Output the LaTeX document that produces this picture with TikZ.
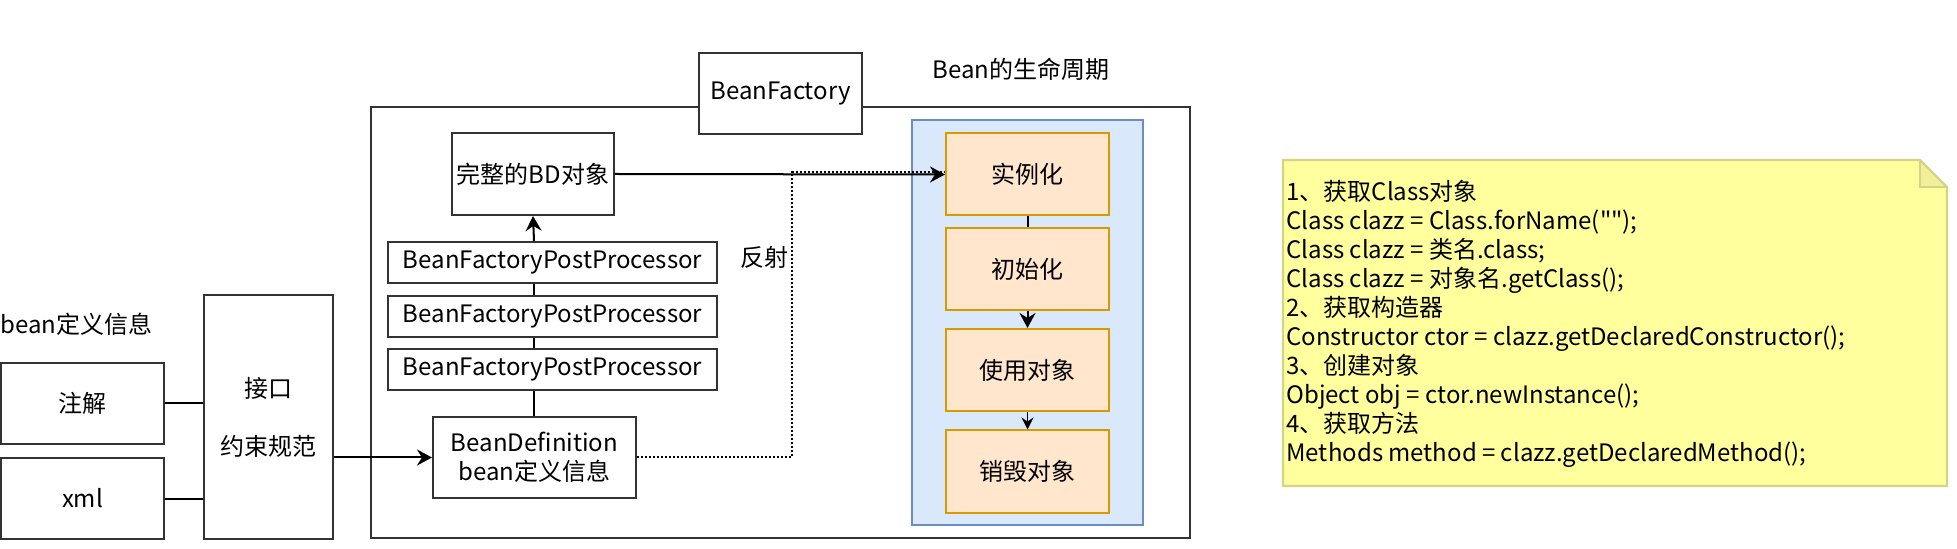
\documentclass[tikz,border=0pt]{standalone}
\usepackage{fontspec}
\newfontfamily\cjkfont{Noto Sans CJK SC}
\usetikzlibrary{arrows.meta}
\definecolor{dk}{HTML}{333333}
\definecolor{orfill}{HTML}{FFE6CC}
\definecolor{ordraw}{HTML}{D79B00}
\definecolor{blfill}{HTML}{DAE8FC}
\definecolor{bldraw}{HTML}{6C8EBF}
\definecolor{ntfill}{HTML}{FFFF9E}
\definecolor{ntdraw}{HTML}{D4D488}
\definecolor{ntfold}{HTML}{F0F09A}
\begin{document}
\begin{tikzpicture}[x=0.5pt,y=-0.5pt,
  font=\cjkfont\fontsize{12}{14.5}\selectfont,
  box/.style={draw=dk,line width=1pt,fill=white,inner sep=0pt,align=center},
  obox/.style={draw=ordraw,line width=1pt,fill=orfill,inner sep=0pt,align=center,minimum width=81.5pt,minimum height=41pt},
  pbox/.style={box,minimum width=164.5pt,minimum height=20.5pt},
  conn/.style={draw=black,line width=1pt},
  arr/.style={conn,-{Stealth[length=7.5pt,width=8pt,inset=2.5pt]}},
  dotline/.style={draw=black,line width=1pt,dash pattern=on 1pt off 1pt},
  lbl/.style={inner sep=0pt}]
\useasboundingbox (0,0) rectangle (1957,549);
% outer BeanFactory frame
\node[box,line width=1.3pt,minimum width=409.5pt,minimum height=215.5pt] (frame) at (780.5,322.5) {};
\node[box] (bfac) at (780.5,93.5) [minimum width=81.5pt,minimum height=40.5pt] {BeanFactory};
\node[lbl,anchor=west] (life) at (932,69) {Bean的生命周期};
% left side
\node[lbl,anchor=west] (bdinfo) at (0,324) {bean定义信息};
\node[box,minimum width=81.5pt,minimum height=40.5pt] (zj) at (82.5,403.5) {注解};
\node[box,minimum width=81.5pt,minimum height=40.5pt] (xml) at (82.5,498.5) {xml};
\node[box,minimum width=64.5pt,minimum height=122pt] (jk) at (268.5,417) {接口\\[14.5pt]约束规范};
% inner
\node[box,minimum width=81pt,minimum height=41pt] (wz) at (533,174) {完整的BD对象};
\node[pbox] (p1) at (552.5,262.5) {BeanFactoryPostProcessor};
\node[pbox] (p2) at (552.5,316.5) {BeanFactoryPostProcessor};
\node[pbox] (p3) at (552.5,370) {BeanFactoryPostProcessor};
\node[box,minimum width=101.5pt,minimum height=40.5pt] (bd) at (534.5,457.5) {BeanDefinition\\bean定义信息};
\node[lbl] (fs) at (764.5,257) {反射};
% lifecycle
\node[draw=bldraw,line width=1pt,fill=blfill,minimum width=115.5pt,minimum height=202.5pt,inner sep=0pt] (life box) at (1027.5,322.5) {};
\node[obox] (s1) at (1027.5,174.5) {实例化};
\node[obox] (s2) at (1027.5,269) {初始化};
\node[obox] (s3) at (1027.5,370) {使用对象};
\node[obox] (s4) at (1027.5,471.5) {销毁对象};
% connectors left
\draw[conn] (zj.east) -- (zj.east -| jk.west);
\draw[conn] (xml.east) -- (xml.east -| jk.west);
\draw[arr] (jk.east |- bd.west) -- (bd.west);
% stack
\draw[conn] (bd.north -| p3.south) ++(-18.5,0) coordinate (bdtop) -- (bdtop |- p3.south);
\draw[conn] (bdtop |- p3.north) -- (bdtop |- p2.south);
\draw[conn] (bdtop |- p2.north) -- (bdtop |- p1.south);
\draw[arr] (bdtop |- p1.north) -- (wz.south);
% reflection dotted path
\coordinate (dc) at (792,172);
\draw[dotline] (bd.east) -| (dc) -- (dc -| s1.west);
\draw[arr] (wz.east) -- (s1.west);
% lifecycle connectors
\draw[conn] (s1.south) -- (s2.north);
\draw[arr] (s2.south) -- (s3.north);
\draw[draw=black,line width=0.6pt,-{Stealth[length=6pt,width=6pt,inset=2pt]}] (s3.south) -- (s4.north);
% note
\coordinate (n1) at (1283,160);
\coordinate (n2) at (1920,160);
\coordinate (n3) at (1947,187);
\coordinate (n4) at (1947,486);
\coordinate (n5) at (1283,486);
\fill[ntfill] (n1) -- (n2) -- (n3) -- (n4) -- (n5) -- cycle;
\fill[ntfold] (n2) -- (n3) -- (n2 |- n3) -- cycle;
\draw[ntdraw,line width=1.2pt,line join=miter] (n1) -- (n2) -- (n3) -- (n4) -- (n5) -- cycle;
\draw[ntdraw,line width=1.2pt] (n2) -- (n2 |- n3) -- (n3);
\node[lbl,anchor=west,align=left] (note) at (1286,324) {1、获取Class对象\\
Class clazz = Class.forName("");\\
Class clazz = 类名.class;\\
Class clazz = 对象名.getClass();\\
2、获取构造器\\
Constructor ctor = clazz.getDeclaredConstructor();\\
3、创建对象\\
Object obj = ctor.newInstance();\\
4、获取方法\\
Methods method = clazz.getDeclaredMethod();};
\end{tikzpicture}
\end{document}
